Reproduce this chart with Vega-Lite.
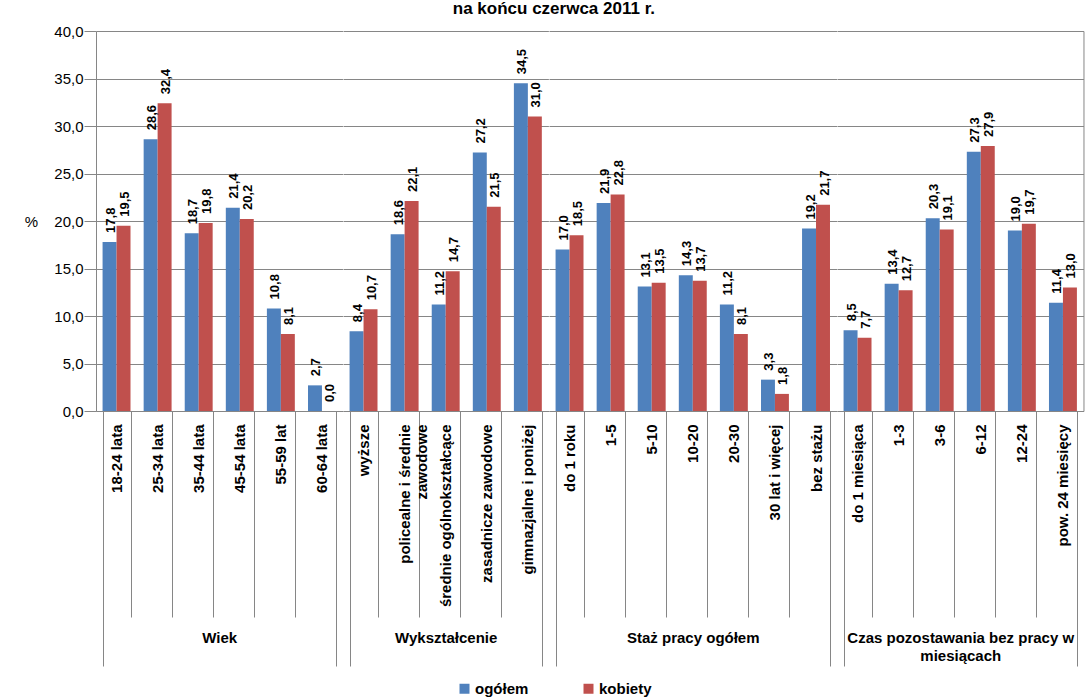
{
  "$schema": "https://vega.github.io/schema/vega-lite/v6.json",
  "autosize": {"type": "pad"},
  "padding": {"left": 24, "top": 0, "right": 8, "bottom": 2},
  "background": "white",
  "title": {"text": "na końcu czerwca 2011 r.", "fontSize": 17, "fontWeight": "bold", "font": "Liberation Sans", "anchor": "middle", "offset": 6},
  "config": {
    "font": "Liberation Sans",
    "view": {"stroke": null},
    "locale": {"number": {"decimal": ",", "thousands": " ", "grouping": [3], "currency": ["", " zł"]}},
    "axisX": {
      "labelAngle": -90, "labelFontSize": 15, "labelFontWeight": "bold", "labelColor": "#000000",
      "labelExpr": "split(datum.label, '|')", "labelLineHeight": 17, "labelLimit": 300,
      "tickBand": "extent", "tickColor": "#868686", "domainColor": "#868686",
      "tickSize": {"condition": {"test": "datum.index < 0 || datum.index >= 1", "value": 255}, "value": 206},
      "labelPadding": {"condition": {"test": "datum.index < 0 || datum.index >= 1", "value": -242}, "value": -193},
      "titleFontSize": 15, "titleFontWeight": "bold", "titleColor": "#000000", "titleY": 219, "titleBaseline": "top", "titleLineHeight": 18
    },
    "axisY": {
      "labelFontSize": 15, "labelColor": "#000000", "labelPadding": 1, "tickSize": 12,
      "tickColor": "#868686", "domainColor": "#868686", "gridColor": "#868686", "gridOpacity": 1
    },
    "text": {"angle": -90, "align": "left", "baseline": "middle", "dx": 9, "dy": 1.5, "fontSize": 13, "fontWeight": "bold", "color": "#000000"}
  },
  "bounds": "flush",
  "spacing": 0,
  "data": {"values": [
    {"grupa": "Wiek", "kategoria": "18-24 lata", "seria": "ogółem", "wartosc": 17.8},
    {"grupa": "Wiek", "kategoria": "18-24 lata", "seria": "kobiety", "wartosc": 19.5},
    {"grupa": "Wiek", "kategoria": "25-34 lata", "seria": "ogółem", "wartosc": 28.6},
    {"grupa": "Wiek", "kategoria": "25-34 lata", "seria": "kobiety", "wartosc": 32.4},
    {"grupa": "Wiek", "kategoria": "35-44 lata", "seria": "ogółem", "wartosc": 18.7},
    {"grupa": "Wiek", "kategoria": "35-44 lata", "seria": "kobiety", "wartosc": 19.8},
    {"grupa": "Wiek", "kategoria": "45-54 lata", "seria": "ogółem", "wartosc": 21.4},
    {"grupa": "Wiek", "kategoria": "45-54 lata", "seria": "kobiety", "wartosc": 20.2},
    {"grupa": "Wiek", "kategoria": "55-59 lat", "seria": "ogółem", "wartosc": 10.8},
    {"grupa": "Wiek", "kategoria": "55-59 lat", "seria": "kobiety", "wartosc": 8.1},
    {"grupa": "Wiek", "kategoria": "60-64 lata", "seria": "ogółem", "wartosc": 2.7},
    {"grupa": "Wiek", "kategoria": "60-64 lata", "seria": "kobiety", "wartosc": 0.0},
    {"grupa": "Wykształcenie", "kategoria": "wyższe", "seria": "ogółem", "wartosc": 8.4},
    {"grupa": "Wykształcenie", "kategoria": "wyższe", "seria": "kobiety", "wartosc": 10.7},
    {"grupa": "Wykształcenie", "kategoria": "policealne i średnie|zawodowe", "seria": "ogółem", "wartosc": 18.6},
    {"grupa": "Wykształcenie", "kategoria": "policealne i średnie|zawodowe", "seria": "kobiety", "wartosc": 22.1},
    {"grupa": "Wykształcenie", "kategoria": "średnie ogólnokształcące", "seria": "ogółem", "wartosc": 11.2},
    {"grupa": "Wykształcenie", "kategoria": "średnie ogólnokształcące", "seria": "kobiety", "wartosc": 14.7},
    {"grupa": "Wykształcenie", "kategoria": "zasadnicze zawodowe", "seria": "ogółem", "wartosc": 27.2},
    {"grupa": "Wykształcenie", "kategoria": "zasadnicze zawodowe", "seria": "kobiety", "wartosc": 21.5},
    {"grupa": "Wykształcenie", "kategoria": "gimnazjalne i poniżej", "seria": "ogółem", "wartosc": 34.5},
    {"grupa": "Wykształcenie", "kategoria": "gimnazjalne i poniżej", "seria": "kobiety", "wartosc": 31.0},
    {"grupa": "Staż", "kategoria": "do 1 roku", "seria": "ogółem", "wartosc": 17.0},
    {"grupa": "Staż", "kategoria": "do 1 roku", "seria": "kobiety", "wartosc": 18.5},
    {"grupa": "Staż", "kategoria": "1-5", "seria": "ogółem", "wartosc": 21.9},
    {"grupa": "Staż", "kategoria": "1-5", "seria": "kobiety", "wartosc": 22.8},
    {"grupa": "Staż", "kategoria": "5-10", "seria": "ogółem", "wartosc": 13.1},
    {"grupa": "Staż", "kategoria": "5-10", "seria": "kobiety", "wartosc": 13.5},
    {"grupa": "Staż", "kategoria": "10-20", "seria": "ogółem", "wartosc": 14.3},
    {"grupa": "Staż", "kategoria": "10-20", "seria": "kobiety", "wartosc": 13.7},
    {"grupa": "Staż", "kategoria": "20-30", "seria": "ogółem", "wartosc": 11.2},
    {"grupa": "Staż", "kategoria": "20-30", "seria": "kobiety", "wartosc": 8.1},
    {"grupa": "Staż", "kategoria": "30 lat i więcej", "seria": "ogółem", "wartosc": 3.3},
    {"grupa": "Staż", "kategoria": "30 lat i więcej", "seria": "kobiety", "wartosc": 1.8},
    {"grupa": "Staż", "kategoria": "bez stażu", "seria": "ogółem", "wartosc": 19.2},
    {"grupa": "Staż", "kategoria": "bez stażu", "seria": "kobiety", "wartosc": 21.7},
    {"grupa": "Czas", "kategoria": "do 1 miesiąca", "seria": "ogółem", "wartosc": 8.5},
    {"grupa": "Czas", "kategoria": "do 1 miesiąca", "seria": "kobiety", "wartosc": 7.7},
    {"grupa": "Czas", "kategoria": "1-3", "seria": "ogółem", "wartosc": 13.4},
    {"grupa": "Czas", "kategoria": "1-3", "seria": "kobiety", "wartosc": 12.7},
    {"grupa": "Czas", "kategoria": "3-6", "seria": "ogółem", "wartosc": 20.3},
    {"grupa": "Czas", "kategoria": "3-6", "seria": "kobiety", "wartosc": 19.1},
    {"grupa": "Czas", "kategoria": "6-12", "seria": "ogółem", "wartosc": 27.3},
    {"grupa": "Czas", "kategoria": "6-12", "seria": "kobiety", "wartosc": 27.9},
    {"grupa": "Czas", "kategoria": "12-24", "seria": "ogółem", "wartosc": 19.0},
    {"grupa": "Czas", "kategoria": "12-24", "seria": "kobiety", "wartosc": 19.7},
    {"grupa": "Czas", "kategoria": "pow. 24 miesięcy", "seria": "ogółem", "wartosc": 11.4},
    {"grupa": "Czas", "kategoria": "pow. 24 miesięcy", "seria": "kobiety", "wartosc": 13.0}
  ]},
  "hconcat": [
    {
      "width": 246.48, "height": 380,
      "transform": [{"filter": "datum.grupa == 'Wiek'"}],
      "encoding": {
        "x": {"field": "kategoria", "type": "nominal", "sort": null, "scale": {"paddingInner": 0.32, "paddingOuter": 0.16}, "axis": {"title": "Wiek"}},
        "xOffset": {"field": "seria", "type": "nominal", "sort": ["ogółem", "kobiety"]},
        "y": {"field": "wartosc", "type": "quantitative", "scale": {"domain": [0, 40], "nice": false},
          "axis": {"title": "%", "titleAngle": 0, "titleFontWeight": "normal", "titleFontSize": 15, "titleX": -65, "titleY": 190, "titleAlign": "center", "titleBaseline": "middle", "values": [0, 5, 10, 15, 20, 25, 30, 35, 40], "format": ".1f"}}
      },
      "layer": [
        {"mark": "bar", "encoding": {"color": {"field": "seria", "type": "nominal", "scale": {"domain": ["ogółem", "kobiety"], "range": ["#4F81BD", "#C0504D"]},
          "legend": {"title": null, "orient": "none", "legendX": 361, "legendY": 650, "direction": "horizontal", "symbolType": "square", "symbolSize": 100, "symbolStrokeWidth": 0, "labelOffset": 3, "labelFontSize": 15, "labelFontWeight": "bold", "labelColor": "#000000", "columnPadding": 52}}}},
        {"mark": "text", "encoding": {"text": {"field": "wartosc", "type": "quantitative", "format": ".1f"}}}
      ]
    },
    {
      "width": 205.4, "height": 380,
      "transform": [{"filter": "datum.grupa == 'Wykształcenie'"}],
      "encoding": {
        "x": {"field": "kategoria", "type": "nominal", "sort": null, "scale": {"paddingInner": 0.32, "paddingOuter": 0.16}, "axis": {"title": "Wykształcenie"}},
        "xOffset": {"field": "seria", "type": "nominal", "sort": ["ogółem", "kobiety"]},
        "y": {"field": "wartosc", "type": "quantitative", "scale": {"domain": [0, 40], "nice": false},
          "axis": {"title": null, "labels": false, "ticks": false, "domain": false, "values": [0, 5, 10, 15, 20, 25, 30, 35, 40]}}
      },
      "layer": [
        {"mark": "bar", "encoding": {"color": {"field": "seria", "type": "nominal", "scale": {"domain": ["ogółem", "kobiety"], "range": ["#4F81BD", "#C0504D"]}, "legend": null}}},
        {"mark": "text", "encoding": {"text": {"field": "wartosc", "type": "quantitative", "format": ".1f"}}}
      ]
    },
    {
      "width": 287.56, "height": 380,
      "transform": [{"filter": "datum.grupa == 'Staż'"}],
      "encoding": {
        "x": {"field": "kategoria", "type": "nominal", "sort": null, "scale": {"paddingInner": 0.32, "paddingOuter": 0.16}, "axis": {"title": "Staż pracy ogółem"}},
        "xOffset": {"field": "seria", "type": "nominal", "sort": ["ogółem", "kobiety"]},
        "y": {"field": "wartosc", "type": "quantitative", "scale": {"domain": [0, 40], "nice": false},
          "axis": {"title": null, "labels": false, "ticks": false, "domain": false, "values": [0, 5, 10, 15, 20, 25, 30, 35, 40]}}
      },
      "layer": [
        {"mark": "bar", "encoding": {"color": {"field": "seria", "type": "nominal", "scale": {"domain": ["ogółem", "kobiety"], "range": ["#4F81BD", "#C0504D"]}, "legend": null}}},
        {"mark": "text", "encoding": {"text": {"field": "wartosc", "type": "quantitative", "format": ".1f"}}}
      ]
    },
    {
      "width": 246.48, "height": 380,
      "transform": [{"filter": "datum.grupa == 'Czas'"}],
      "encoding": {
        "x": {"field": "kategoria", "type": "nominal", "sort": null, "scale": {"paddingInner": 0.32, "paddingOuter": 0.16}, "axis": {"title": ["Czas pozostawania bez pracy w", "miesiącach"]}},
        "xOffset": {"field": "seria", "type": "nominal", "sort": ["ogółem", "kobiety"]},
        "y": {"field": "wartosc", "type": "quantitative", "scale": {"domain": [0, 40], "nice": false},
          "axis": {"title": null, "orient": "right", "labels": false, "ticks": false, "domain": true, "values": [0, 5, 10, 15, 20, 25, 30, 35, 40]}}
      },
      "layer": [
        {"mark": "bar", "encoding": {"color": {"field": "seria", "type": "nominal", "scale": {"domain": ["ogółem", "kobiety"], "range": ["#4F81BD", "#C0504D"]}, "legend": null}}},
        {"mark": "text", "encoding": {"text": {"field": "wartosc", "type": "quantitative", "format": ".1f"}}}
      ]
    }
  ]
}
